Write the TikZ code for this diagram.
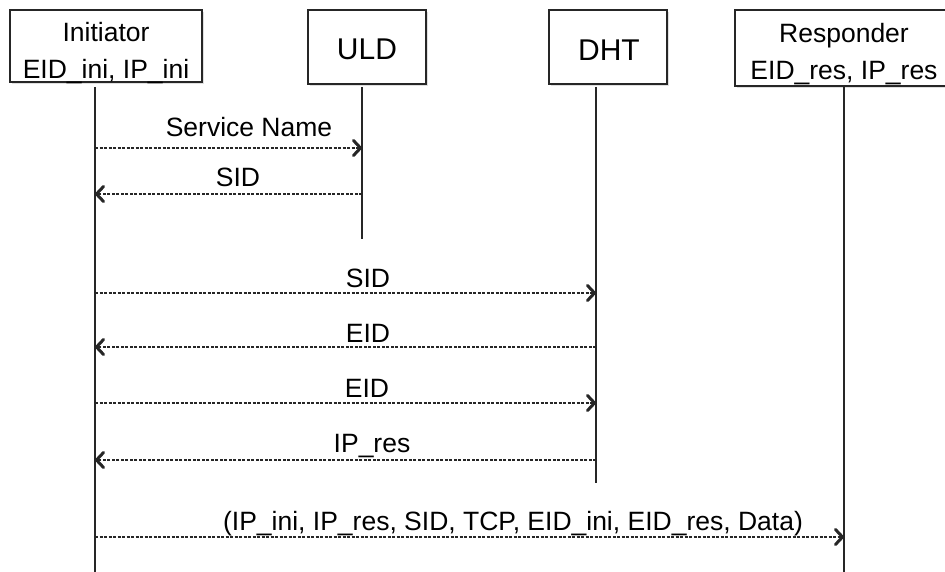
\documentclass[tikz,border=0pt]{standalone}
\usepackage{fontspec}
\setmainfont{Liberation Sans}
\usetikzlibrary{arrows.meta,shadows}

\begin{document}
\begin{tikzpicture}[x=1pt, y=-1pt,
    box/.style={draw=black!85, line width=1.8pt, fill=white, rectangle, inner sep=0pt,
        drop shadow={shadow xshift=2pt, shadow yshift=-2pt, opacity=0.25}},
    lbl/.style={anchor=base, inner sep=0pt, font=\fontsize{26.5}{32}\selectfont},
    big/.style={anchor=base, inner sep=0pt, font=\fontsize{30}{36}\selectfont},
    life/.style={black!85, line width=1.7pt},
    msg/.style={black!85, line width=1.2pt, dash pattern=on 3pt off 1.5pt,
        -{Straight Barb[length=7pt, width=15pt, line width=3pt, round]}}]
    \clip (0,0) rectangle (945,572);
    % participants
    \node[box, minimum width=192pt, minimum height=72pt] (ini) at (106,46) {};
    \node[box, minimum width=118pt, minimum height=74pt] (uld) at (367,47) {};
    \node[box, minimum width=118pt, minimum height=74pt] (dht) at (608,47) {};
    \node[box, minimum width=218pt, minimum height=76pt] (res) at (844,48) {};
    \node[lbl] (ini name) at (106,42) {Initiator};
    \node[lbl] (ini addr) at (106,79) {EID\_ini, IP\_ini};
    \node[big] (uld name) at (367,60) {ULD};
    \node[big] (dht name) at (609,61) {DHT};
    \node[lbl] (res name) at (844,43) {Responder};
    \node[lbl] (res addr) at (844,80) {EID\_res, IP\_res};
    % lifelines
    \coordinate (ini top) at (95,87);   \coordinate (ini end) at (95,572);
    \coordinate (uld top) at (362,87);  \coordinate (uld end) at (362,239);
    \coordinate (dht top) at (596,87);  \coordinate (dht end) at (596,483);
    \coordinate (res top) at (844,87);  \coordinate (res end) at (844,572);
    \foreach \p in {ini,uld,dht,res} {
        \draw[life] (\p\space top) -- (\p\space end);
    }
    % messages: y / from / to / label x / label baseline / text
    \foreach \y/\a/\b/\lx/\ly/\txt [count=\i] in {
        148/ini/uld/249/137/Service Name,
        194/uld/ini/238/187/SID,
        293/ini/dht/368/287/SID,
        347/dht/ini/368/342/EID,
        403/ini/dht/367/397/EID,
        460/dht/ini/372/452/IP\_res,
        537/ini/res/513/530/{(IP\_ini, IP\_res, SID, TCP, EID\_ini, EID\_res, Data)}} {
        \draw[msg] (\a\space top |- 0,\y) -- (\b\space top |- 0,\y);
        \node[lbl] (m\i) at (\lx,\ly) {\txt};
    }
\end{tikzpicture}
\end{document}
